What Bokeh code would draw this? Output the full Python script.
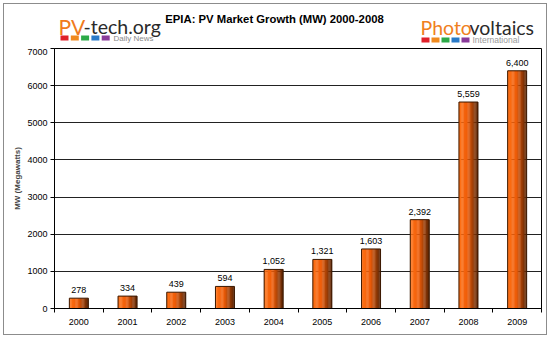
import numpy as np
from bokeh.plotting import figure
from bokeh.layouts import column
from bokeh.models import Range1d, FixedTicker, LinearAxis, Label, BoxAnnotation, ColumnDataSource
from bokeh.transform import dodge
from bokeh.core.properties import value
from bokeh.embed import file_html
from bokeh.resources import INLINE

# ---- data ----
years = ["2000", "2001", "2002", "2003", "2004", "2005", "2006", "2007", "2008", "2009"]
mw = [278, 334, 439, 594, 1052, 1321, 1603, 2392, 5559, 6400]
value_labels = ["278", "334", "439", "594", "1,052", "1,321", "1,603", "2,392", "5,559", "6,400"]
y_ticks = [0, 1000, 2000, 3000, 4000, 5000, 6000, 7000]
title_text = "EPIA: PV Market Growth (MW) 2000-2008"
y_label = "MW (Megawatts)"

FONT = "Liberation Sans"
W, H = 550, 338
HEAD = 48
FL, FR = 54, 541  # frame left/right in page pixels

# ---------------- header figure (pixel-like coordinates, y from top) ----------------
h = figure(width=W, height=HEAD, output_backend="svg", toolbar_location=None,
           x_range=Range1d(FL, FR), y_range=Range1d(HEAD, 0),
           x_axis_location=None, y_axis_location=None,
           min_border_left=FL, min_border_right=W - FR,
           min_border_top=0, min_border_bottom=0)
h.grid.visible = False
h.outline_line_color = None
h.background_fill_color = None
h.border_fill_color = None

def lab(x, y, text, **kw):
    h.add_layout(Label(x=x, y=y, text=text, **kw))

def box(l, r, t, b, **kw):
    h.add_layout(BoxAnnotation(left=l, right=r, top=t, bottom=b, **kw))

lab(274, 18.5, title_text, text_font=FONT, text_font_size="11.3px", text_font_style="bold",
    text_align="center", text_baseline="middle", text_color="black")

LOGO_FONT = "Lato"
lab(58, 25.6, "PV", text_font=LOGO_FONT, text_font_size="21px", text_color="#f07a1c",
    text_baseline="middle", text_align="left")
lab(83, 25.6, "-tech.org", text_font=LOGO_FONT, text_font_size="19.5px", text_color="#2a2a2a",
    text_baseline="middle", text_align="left")
lab(113, 37.5, "Daily News", text_font=FONT, text_font_size="8px", text_color="#8a8a8a",
    text_baseline="middle", text_align="left")

lab(420, 27.2, "Photo", text_font=LOGO_FONT, text_font_size="19.5px", text_color="#f08020",
    text_baseline="middle", text_align="left")
lab(469, 27.2, "voltaics", text_font=LOGO_FONT, text_font_size="19.5px", text_color="#2a2a2a",
    text_baseline="middle", text_align="left")
lab(472, 39.5, "International", text_font=FONT, text_font_size="8.5px", text_color="#9a9a9a",
    text_baseline="middle", text_align="left")

sq_colors = ["#e0202a", "#f08a1e", "#2daa48", "#2a7ac8", "#8a3a9a"]
for i, c in enumerate(sq_colors):
    x0 = 60 + i * 10.3
    box(x0, x0 + 8, 35, 40, fill_color=c, fill_alpha=1, line_color=None)
    x1 = 421 + i * 10
    box(x1, x1 + 8, 37, 42, fill_color=c, fill_alpha=1, line_color=None)

# ---------------- chart figure ----------------
p = figure(width=W, height=H - HEAD, output_backend="svg", toolbar_location=None,
           x_range=Range1d(-0.5, len(years) - 0.5), y_range=Range1d(0, 7000),
           min_border_left=FL, min_border_right=W - FR, min_border_top=0, min_border_bottom=30)
p.background_fill_color = "white"
p.border_fill_color = None
p.outline_line_color = "black"

p.yaxis.ticker = FixedTicker(ticks=y_ticks)
p.yaxis.axis_label = y_label
p.yaxis.axis_label_text_font = FONT
p.yaxis.axis_label_text_font_size = "8px"
p.yaxis.axis_label_text_font_style = "bold"
p.yaxis.axis_label_standoff = 2
p.yaxis.major_label_text_font = FONT
p.yaxis.major_label_text_font_size = "9px"
p.yaxis.major_label_text_color = "black"
p.yaxis.major_label_standoff = 3
p.yaxis.major_tick_in = 0
p.yaxis.major_tick_out = 4
p.yaxis.minor_tick_line_color = None
p.yaxis.axis_line_color = "black"
p.yaxis.major_tick_line_color = "black"

bounds = [i - 0.5 for i in range(len(years) + 1)]
p.xaxis.ticker = FixedTicker(ticks=bounds)
p.xaxis.major_label_overrides = {b: "" for b in bounds}
p.xaxis.major_tick_in = 0
p.xaxis.major_tick_out = 4
p.xaxis.minor_tick_line_color = None
p.xaxis.axis_line_color = "black"
p.xaxis.major_tick_line_color = "black"
p.xaxis.major_label_standoff = 0

lab_axis = LinearAxis(ticker=FixedTicker(ticks=list(range(len(years)))),
                      major_label_overrides={i: y for i, y in enumerate(years)},
                      axis_line_color=None, major_tick_line_color=None,
                      minor_tick_line_color=None, major_label_standoff=0,
                      major_label_text_font=FONT, major_label_text_font_size="9px",
                      major_label_text_color="black")
p.add_layout(lab_axis, "below")

p.xgrid.grid_line_color = None
p.ygrid.ticker = FixedTicker(ticks=y_ticks)
p.ygrid.grid_line_color = "#222222"
p.ygrid.grid_line_width = 1

src = ColumnDataSource(dict(x=list(range(len(years))), top=mw, label=value_labels))
n = 16
bw = 0.39
stops = [(0.0, (255, 112, 20)), (0.45, (238, 92, 8)), (1.0, (96, 38, 4))]
def grad(t):
    for (t0, c0), (t1, c1) in zip(stops[:-1], stops[1:]):
        if t <= t1:
            f = (t - t0) / (t1 - t0)
            return "#%02x%02x%02x" % tuple(int(round(a + (b - a) * f)) for a, b in zip(c0, c1))
    return "#%02x%02x%02x" % stops[-1][1]
for k in range(n):
    off = -bw / 2 + (k + 0.5) * bw / n
    p.vbar(x=dodge("x", off), top="top", width=bw / n * 1.2, source=src,
           fill_color=grad(k / (n - 1)), line_color=None)
p.vbar(x="x", top="top", width=bw, source=src, fill_alpha=0, line_color="#3a1800", line_width=1)

p.text(x="x", y="top", text="label", source=src, text_align="center", text_baseline="bottom",
       y_offset=-5, text_font=value(FONT), text_font_size="9px", text_color="black")

layout = column(h, p, spacing=0,
                styles={"background-color": "white",
                        "box-shadow": "inset 0 0 0 3px #ffffff, inset 0 0 0 4px #8c8c8c"})

open("out.html", "w").write(file_html(layout, INLINE))
